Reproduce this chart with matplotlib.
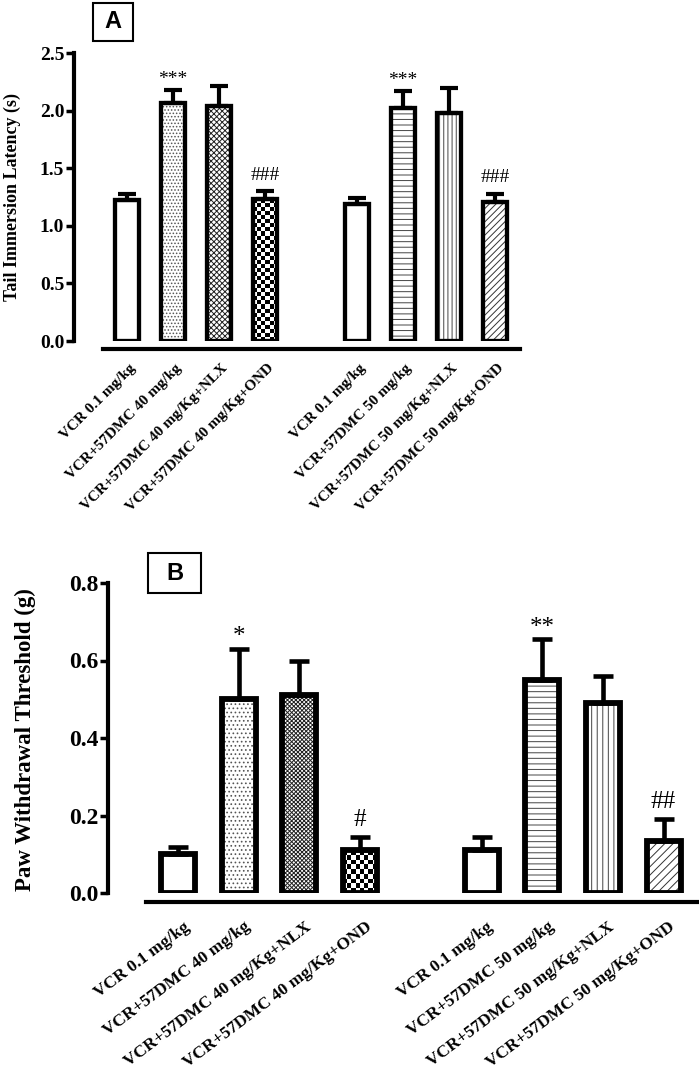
import numpy as np
import matplotlib
matplotlib.use('Agg')
import matplotlib.pyplot as plt
from matplotlib.patches import Rectangle
from matplotlib.transforms import ScaledTranslation

plt.rcParams['font.family'] = ['Liberation Serif', 'DejaVu Serif']
plt.rcParams['font.weight'] = 'bold'
plt.rcParams['hatch.linewidth'] = 0.7

# group labels (same layout in both panels)
labels = ['VCR 0.1 mg/kg', 'VCR+57DMC 40 mg/kg', 'VCR+57DMC 40 mg/Kg+NLX',
          'VCR+57DMC 40 mg/Kg+OND', 'VCR 0.1 mg/kg', 'VCR+57DMC 50 mg/kg',
          'VCR+57DMC 50 mg/Kg+NLX', 'VCR+57DMC 50 mg/Kg+OND']
positions = [0, 1, 2, 3, 5, 6, 7, 8]

# panel A: tail immersion latency (s)
tail_mean = [1.22, 2.07, 2.04, 1.23, 1.19, 2.02, 1.98, 1.21]
tail_sem = [0.06, 0.11, 0.17, 0.07, 0.05, 0.15, 0.22, 0.07]
tail_sig = ['', '***', '', '###', '', '***', '', '###']

# panel B: paw withdrawal threshold (g)
paw_mean = [0.10, 0.50, 0.51, 0.11, 0.11, 0.55, 0.49, 0.135]
paw_sem = [0.018, 0.13, 0.09, 0.035, 0.035, 0.105, 0.07, 0.055]
paw_sig = ['', '*', '', '#', '', '**', '', '##']

fig = plt.figure(figsize=(6.99, 10.78), dpi=100)
W, H = 699, 1078


def px_axes(left, top, right, bottom):
    return fig.add_axes([left / W, 1 - bottom / H, (right - left) / W, (bottom - top) / H])


def checker(ax, patch, cell):
    bb = patch.get_window_extent()
    nx = max(1, int(round(bb.width / cell)))
    ny = max(1, int(round(bb.height / cell)))
    arr = np.indices((ny, nx)).sum(0) % 2
    x0 = patch.get_x()
    im = ax.imshow(arr, cmap='gray', origin='lower', interpolation='nearest',
                   extent=(x0, x0 + patch.get_width(), 0, patch.get_height()),
                   aspect='auto', zorder=2.5)
    im.set_clip_path(patch)


def panel(ax, means, sems, sig, ymax, ystep, hatches, bw, lw, elw, cap, cell,
          tick_fs, lab_fs, sig_fs, outward, rot, lpad, ldx):
    xlim = (-1.153, 8.5 if ymax > 1 else 8.55)
    ax.set_xlim(*xlim)
    ax.set_ylim(0, ymax)
    fills = ax.bar(positions, means, bw, color='white', linewidth=0, zorder=2)
    for p, (h, c) in zip(fills, hatches):
        if h == 'checker':
            checker(ax, p, cell)
        elif h:
            p.set_hatch(h)
            p.set_edgecolor(c)
    ax.errorbar(positions, means, yerr=[np.zeros(len(means)), sems], fmt='none',
                ecolor='black', elinewidth=elw, capsize=cap, capthick=elw, zorder=2.8)
    ax.bar(positions, means, bw, facecolor='none', edgecolor='black', linewidth=lw, zorder=3)
    ax.set_xlim(*xlim)
    ax.set_ylim(0, ymax)

    for x, m, s, t in zip(positions, means, sems, sig):
        if not t:
            continue
        off = 4 if t.startswith('*') else 8
        ax.annotate(t, (x, m + s), xytext=(0, off), textcoords='offset points',
                    ha='center', va='baseline', fontsize=sig_fs, fontweight='normal')

    for side in ['top', 'right']:
        ax.spines[side].set_visible(False)
    ax.spines['left'].set_linewidth(3)
    ax.spines['left'].set_bounds(0, ymax)
    ax.spines['bottom'].set_linewidth(3)
    ax.spines['bottom'].set_position(('outward', outward))
    ax.spines['bottom'].set_bounds(-0.52, 8.55)
    ax.set_yticks(np.arange(0, ymax + ystep / 2, ystep))
    ax.yaxis.set_major_formatter(matplotlib.ticker.FormatStrFormatter('%.1f'))
    ax.tick_params(axis='y', length=6, width=2.5, labelsize=tick_fs, pad=1)
    ax.set_xticks(positions)
    ax.set_xticklabels(labels, rotation=rot, ha='right', rotation_mode='anchor',
                       fontsize=lab_fs)
    ax.tick_params(axis='x', length=0, pad=lpad)
    shift = ScaledTranslation(ldx / 100, 0, fig.dpi_scale_trans)
    for lab in ax.get_xticklabels():
        lab.set_transform(lab.get_transform() + shift)


hatch_a = [(None, None), ('.....', '#555555'), ('xxxxxx', '#222222'), ('checker', None),
           (None, None), ('---', '#444444'), ('||||', '#444444'), ('/////', '#333333')]
hatch_b = [(None, None), ('....', '#555555'), ('xxxxxxxx', '#222222'), ('checker', None),
           (None, None), ('---', '#444444'), ('|||', '#444444'), ('////', '#333333')]

ax_a = px_axes(74, 53, 518, 341)
panel(ax_a, tail_mean, tail_sem, tail_sig, 2.5, 0.5, hatch_a, 0.54, 3.1, 3.0, 6.5, 4,
      14, 11, 14, 6, 45, 9, 2)

ax_b = px_axes(108, 583, 697, 893)
panel(ax_b, paw_mean, paw_sem, paw_sig, 0.8, 0.2, hatch_b, 0.56, 4.2, 3.3, 7.2, 4.5,
      17, 12.5, 18, 6.5, 37, 12, 5)

fig.text(12 / W, 1 - 197 / H, 'Tail Immersion Latency (s)', rotation=90,
         ha='center', va='center', fontsize=13)
fig.text(25 / W, 1 - 740 / H, 'Paw Withdrawal Threshold (g)', rotation=90,
         ha='center', va='center', fontsize=16.5)

# panel letters in boxes
for (l, t, r, b), letter in [((93, 3, 133, 41), 'A'), ((148, 553, 201, 593), 'B')]:
    fig.patches.append(Rectangle((l / W, 1 - b / H), (r - l) / W, (b - t) / H,
                                 transform=fig.transFigure, facecolor='white',
                                 edgecolor='black', linewidth=1.5))
    fig.text((l + r) / 2 / W, 1 - (t + b) / 2 / H, letter, ha='center', va='center',
             fontsize=17, family='Liberation Sans', fontweight='bold')

fig.savefig('out.png', dpi=100)
